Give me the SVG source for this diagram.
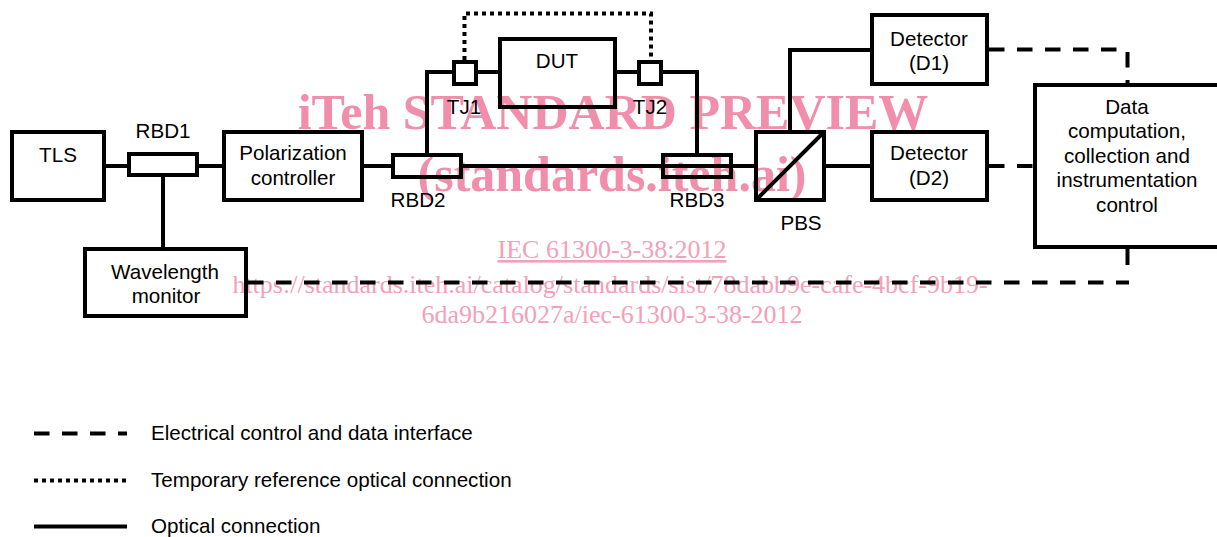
<svg xmlns="http://www.w3.org/2000/svg" width="1217" height="537" viewBox="0 0 1217 537">
<style>
.b{fill:none;stroke:#000;stroke-width:4}
.l{fill:none;stroke:#000;stroke-width:4}
.da{stroke-dasharray:15.5 12.5}
.do{stroke-dasharray:4 4}
text{font-family:"Liberation Sans",Arial,sans-serif;font-size:20.6px;fill:#000;text-anchor:middle}
text.t{text-anchor:start}
.w text{font-family:"Liberation Serif","Times New Roman",serif;fill:#F08EAB}
.w .h{font-size:50px;font-weight:bold}
.w .s{font-size:26px;fill:#F4A0B8}
</style>
<rect width="1217" height="537" fill="#fff"/>
<g id="watermark" class="w">
<text class="h" x="613" y="129">iTeh STANDARD PREVIEW</text>
<text class="h" x="612" y="191">(standards.iteh.ai)</text>
<text class="s" x="612" y="258" text-decoration="underline">IEC 61300-3-38:2012</text>
<text class="s" x="610" y="293">https://standards.iteh.ai/catalog/standards/sist/78dabb9e-cafe-4bcf-9b19-</text>
<text class="s" x="612" y="323">6da9b216027a/iec-61300-3-38-2012</text>
</g>
<g id="connectors">
<path class="l" d="M104 166H129M197 166H224M163 175V249M362 166H393M461 166H756M427 155V72H454M476 72H500M615 72H639M661 72H697V155M790 132V50H872M824 166H872"/>
<path class="l do" d="M464.500 60V13.500H651V60"/>
<path class="l da" d="M989 49.500H1127.500"/>
<path class="l da" d="M1127.500 52V85"/>
<path class="l da" d="M989 166H1035"/>
<path class="l da" d="M248 282.500H1129"/>
<path class="l" d="M1127.500 249V265"/>
<path class="l" d="M756 200L824 132"/>
</g>
<g id="tls"><rect class="b" x="12" y="132" width="92" height="68"/><text x="58" y="162">TLS</text></g>
<g id="rbd1"><rect class="b" x="129" y="154" width="68" height="21"/><text x="163" y="138">RBD1</text></g>
<g id="polarization"><rect class="b" x="224" y="132" width="138" height="68"/><text x="293" y="160">Polarization</text><text x="293" y="185">controller</text></g>
<g id="wavelength"><rect class="b" x="85" y="249" width="161" height="67"/><text x="165" y="279">Wavelength</text><text x="166" y="303">monitor</text></g>
<g id="rbd2"><rect class="b" x="393" y="155" width="68" height="22"/><text x="418" y="207">RBD2</text></g>
<g id="rbd3"><rect class="b" x="663" y="155" width="68" height="22"/><text x="697" y="207">RBD3</text></g>
<g id="tj1"><rect class="b" x="454" y="62" width="22" height="22"/><text x="464" y="114">TJ1</text></g>
<g id="dut"><rect class="b" x="500" y="39" width="115" height="68"/><text x="557" y="68">DUT</text></g>
<g id="tj2"><rect class="b" x="639" y="62" width="22" height="22"/><text x="650" y="114">TJ2</text></g>
<g id="pbs"><rect class="b" x="756" y="132" width="68" height="68"/><text x="801" y="230">PBS</text></g>
<g id="d1"><rect class="b" x="872" y="15" width="115" height="69"/><text x="929" y="46">Detector</text><text x="929" y="70">(D1)</text></g>
<g id="d2"><rect class="b" x="872" y="132" width="115" height="68"/><text x="929" y="160">Detector</text><text x="929" y="185">(D2)</text></g>
<g id="data"><rect class="b" x="1035" y="85" width="190" height="162"/><text x="1127" y="114">Data</text><text x="1127" y="138">computation,</text><text x="1127" y="163">collection and</text><text x="1127" y="187">instrumentation</text><text x="1127" y="212">control</text></g>
<g id="legend">
<path class="l da" d="M34 433.500H127"/><text class="t" x="151" y="440">Electrical control and data interface</text>
<path class="l do" d="M34 480.500H127"/><text class="t" x="151" y="487">Temporary reference optical connection</text>
<path class="l" d="M34 526.500H127"/><text class="t" x="151" y="533">Optical connection</text>
</g>
</svg>
